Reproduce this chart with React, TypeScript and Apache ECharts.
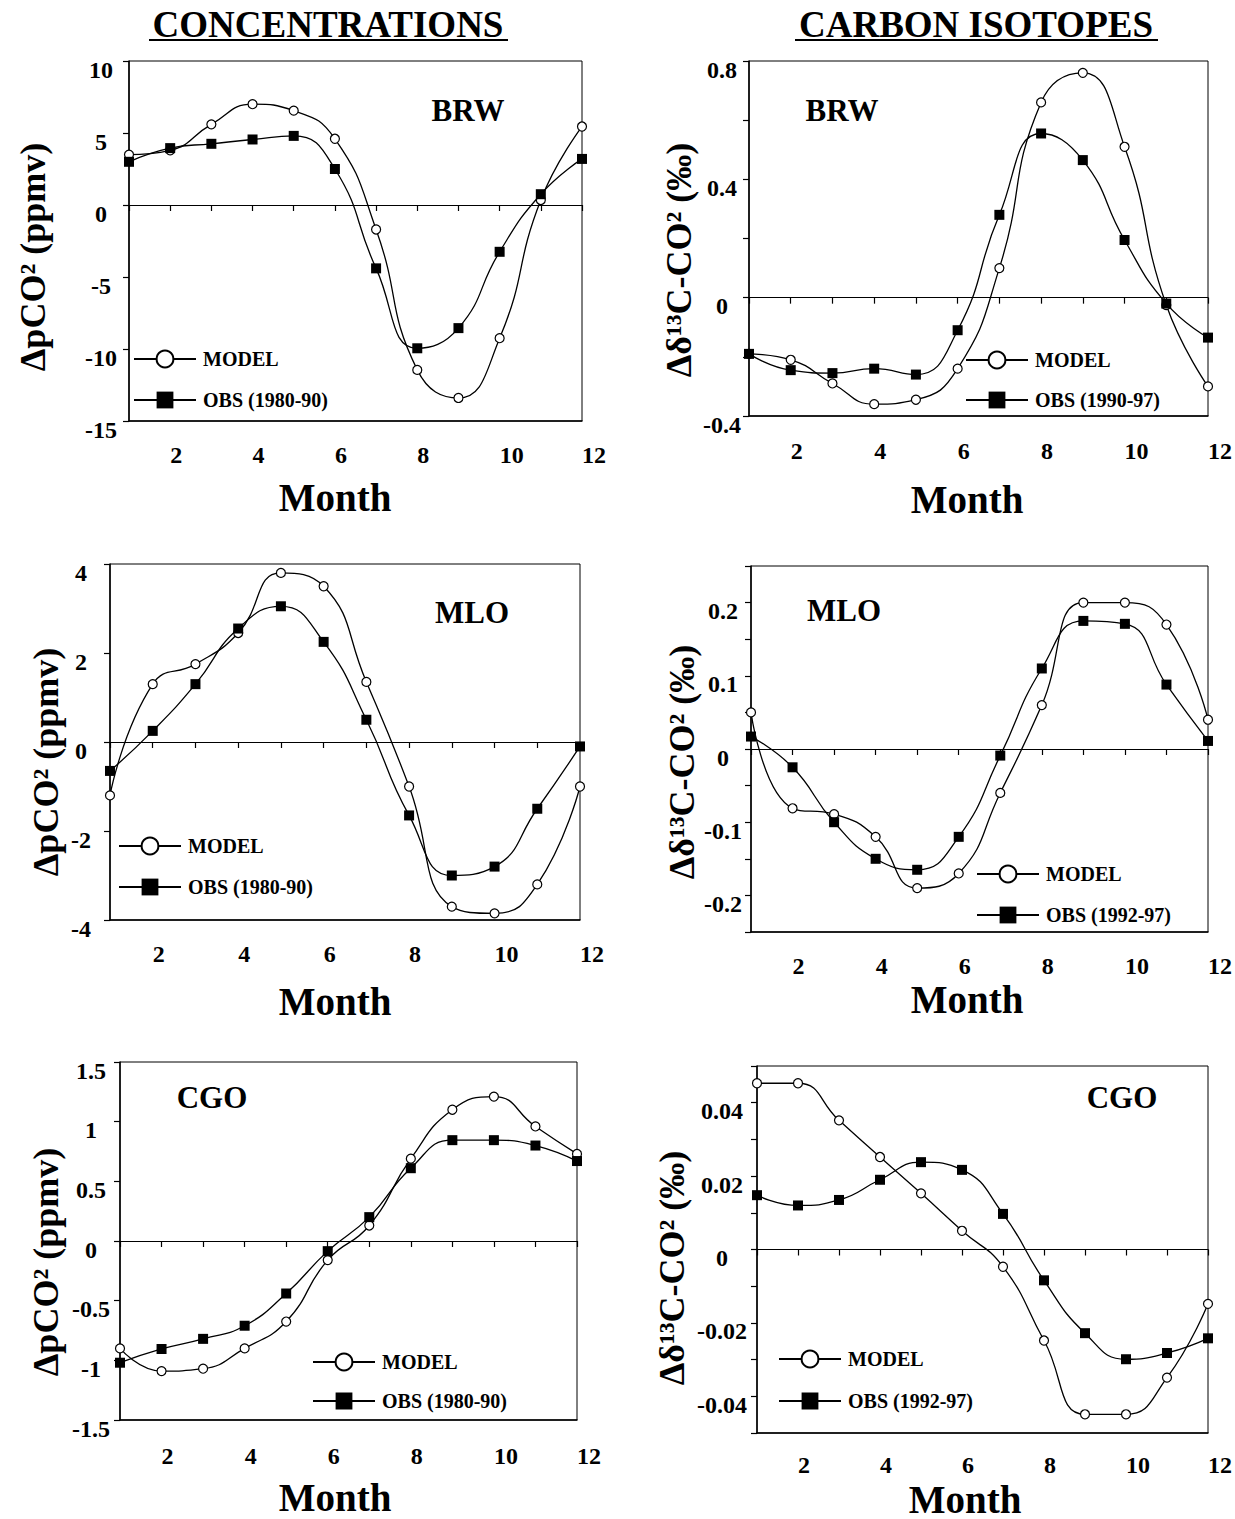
import React, { useEffect, useRef } from 'react';
import * as echarts from 'echarts';

const FONT = '"Liberation Serif", "Times New Roman", serif';

// ---- data ----
const months = [1, 2, 3, 4, 5, 6, 7, 8, 9, 10, 11, 12];
const xTickLabels = [2, 4, 6, 8, 10, 12];

const brwConcModel = [3.5, 3.8, 5.6, 7.0, 6.55, 4.6, -1.7, -11.45, -13.4, -9.25, 0.35, 5.45];
const brwConcObs = [3.0, 3.95, 4.25, 4.55, 4.8, 2.5, -4.4, -9.95, -8.55, -3.25, 0.75, 3.2];
const brwConcYLabels = [-15, -10, -5, 0, 5, 10];

const brwIsoModel = [-0.19, -0.21, -0.29, -0.36, -0.345, -0.24, 0.1, 0.66, 0.76, 0.51, -0.025, -0.3];
const brwIsoObs = [-0.19, -0.245, -0.255, -0.24, -0.26, -0.11, 0.28, 0.555, 0.465, 0.195, -0.02, -0.135];
const brwIsoYLabels = [-0.4, 0, 0.4, 0.8];

const mloConcModel = [-1.2, 1.3, 1.75, 2.45, 3.8, 3.5, 1.35, -1.0, -3.7, -3.85, -3.2, -1.0];
const mloConcObs = [-0.65, 0.25, 1.3, 2.55, 3.05, 2.25, 0.5, -1.65, -3.0, -2.8, -1.5, -0.1];
const mloConcYLabels = [-4, -2, 0, 2, 4];

const mloIsoModel = [0.05, -0.081, -0.089, -0.12, -0.19, -0.17, -0.06, 0.06, 0.2, 0.2, 0.17, 0.04];
const mloIsoObs = [0.017, -0.025, -0.1, -0.15, -0.165, -0.12, -0.009, 0.11, 0.175, 0.171, 0.088, 0.011];
const mloIsoYLabels = [-0.2, -0.1, 0, 0.1, 0.2];

const cgoConcModel = [-0.9, -1.09, -1.07, -0.9, -0.675, -0.16, 0.13, 0.69, 1.1, 1.21, 0.96, 0.73];
const cgoConcObs = [-1.02, -0.905, -0.82, -0.71, -0.44, -0.085, 0.2, 0.61, 0.845, 0.845, 0.8, 0.67];
const cgoConcYLabels = [-1.5, -1, -0.5, 0, 0.5, 1, 1.5];

const cgoIsoModel = [0.0453, 0.0453, 0.0352, 0.0252, 0.0153, 0.0051, -0.0047, -0.0248, -0.0449, -0.0449, -0.0349, -0.0148];
const cgoIsoObs = [0.0148, 0.012, 0.0135, 0.019, 0.0238, 0.0217, 0.0097, -0.0084, -0.0228, -0.0299, -0.0282, -0.0242];
const cgoIsoYLabels = [-0.04, -0.02, 0, 0.02, 0.04];

const concTitle = 'ΔpCO² (ppmv)';
const isoTitle = 'Δδ¹³C-CO² (‰)';

// ---- layout ----
const panels = [
  {
    grid: { left: 129, top: 61, width: 453, height: 360 },
    y: { min: -15, max: 10, interval: 5 }, yLabels: brwConcYLabels, labelMargin: 28, xMargin: 22,
    model: brwConcModel, obs: brwConcObs, obsName: 'OBS (1980-90)',
    station: 'BRW', stationPos: [468, 110], yTitle: concTitle, yTitlePos: [33, 257],
    monthPos: [335, 497], legend: { left: 133, top: 349, gap: 21 },
  },
  {
    grid: { left: 749, top: 61, width: 463, height: 355 },
    y: { min: -0.4, max: 0.8, interval: 0.2 }, yLabels: brwIsoYLabels, labelMargin: 27, xMargin: 23,
    model: brwIsoModel, obs: brwIsoObs, obsName: 'OBS (1990-97)',
    station: 'BRW', stationPos: [842, 110], yTitle: isoTitle, yTitlePos: [679, 260],
    monthPos: [967, 499], legend: { left: 965, top: 350, gap: 20 },
  },
  {
    grid: { left: 110, top: 564, width: 470, height: 356 },
    y: { min: -4, max: 4, interval: 2 }, yLabels: mloConcYLabels, labelMargin: 29, xMargin: 22,
    model: mloConcModel, obs: mloConcObs, obsName: 'OBS (1980-90)',
    station: 'MLO', stationPos: [472, 612], yTitle: concTitle, yTitlePos: [46, 762],
    monthPos: [335, 1001], legend: { left: 118, top: 836, gap: 21 },
  },
  {
    grid: { left: 751, top: 566, width: 464, height: 366 },
    y: { min: -0.25, max: 0.25, interval: 0.05 }, yLabels: mloIsoYLabels, labelMargin: 28, xMargin: 22,
    model: mloIsoModel, obs: mloIsoObs, obsName: 'OBS (1992-97)',
    station: 'MLO', stationPos: [844, 610], yTitle: isoTitle, yTitlePos: [682, 762],
    monthPos: [967, 999], legend: { left: 976, top: 864, gap: 21 },
  },
  {
    grid: { left: 120, top: 1062, width: 457, height: 358 },
    y: { min: -1.5, max: 1.5, interval: 0.5 }, yLabels: cgoConcYLabels, labelMargin: 29, xMargin: 24,
    model: cgoConcModel, obs: cgoConcObs, obsName: 'OBS (1980-90)',
    station: 'CGO', stationPos: [212, 1097], yTitle: concTitle, yTitlePos: [46, 1262],
    monthPos: [335, 1497], legend: { left: 312, top: 1352, gap: 19 },
  },
  {
    grid: { left: 757, top: 1066, width: 455, height: 367 },
    y: { min: -0.05, max: 0.05, interval: 0.01 }, yLabels: cgoIsoYLabels, labelMargin: 35, xMargin: 20,
    model: cgoIsoModel, obs: cgoIsoObs, obsName: 'OBS (1992-97)',
    station: 'CGO', stationPos: [1122, 1097], yTitle: isoTitle, yTitlePos: [672, 1268],
    monthPos: [965, 1499], legend: { left: 778, top: 1349, gap: 22 },
  },
];

const fmt = (v: number) => String(Math.round(v * 1e6) / 1e6);
const inList = (list: number[], v: number) => list.some((l) => Math.abs(l - v) < 1e-9);

const labelFont = { fontFamily: FONT, fontWeight: 'bold' as const, color: '#000' };

function buildOption() {
  const grid = panels.map((p) => ({ ...p.grid, show: true, borderColor: '#000', borderWidth: 1, backgroundColor: 'transparent' }));
  const xAxis: any[] = [];
  panels.forEach((p, i) => {
    xAxis.push({
      gridIndex: i, type: 'value', min: 1, max: 12, interval: 1, position: 'bottom',
      axisLine: { show: true, onZero: true, lineStyle: { color: '#000', width: 1.2 } },
      axisTick: { show: true, inside: false, length: 6, lineStyle: { color: '#000', width: 1.2 } },
      axisLabel: { show: false }, splitLine: { show: false },
    });
    xAxis.push({
      gridIndex: i, type: 'value', min: 1, max: 12, interval: 1, position: 'bottom',
      axisLine: { show: true, onZero: false, lineStyle: { color: '#000', width: 1.5 } },
      axisTick: { show: false }, splitLine: { show: false },
      axisLabel: {
        show: true, margin: p.xMargin, align: 'left', fontSize: 24, ...labelFont, showMinLabel: true, showMaxLabel: true,
        formatter: (v: number) => (inList(xTickLabels, v) ? fmt(v) : ''),
      },
    });
  });
  const yAxis = panels.map((p, i) => ({
    gridIndex: i, type: 'value', min: p.y.min, max: p.y.max, interval: p.y.interval,
    axisLine: { show: true, onZero: false, lineStyle: { color: '#000', width: 1.5 } },
    axisTick: { show: true, inside: false, length: 6, lineStyle: { color: '#000', width: 1.2 } },
    splitLine: { show: false },
    axisLabel: {
      show: true, margin: p.labelMargin, align: 'center', verticalAlign: 'top', lineHeight: 17,
      fontSize: 24, ...labelFont, showMinLabel: true, showMaxLabel: true,
      formatter: (v: number) => (inList(p.yLabels, v) ? fmt(v) : ''),
    },
  }));
  const series: any[] = [];
  panels.forEach((p, i) => {
    series.push({
      type: 'line', name: 'MODEL', xAxisIndex: 2 * i, yAxisIndex: i,
      data: months.map((m, j) => [m, p.model[j]]), smooth: 0.5,
      symbol: 'circle', symbolSize: 9, showSymbol: true,
      lineStyle: { color: '#000', width: 1.3 },
      itemStyle: { color: '#fff', borderColor: '#000', borderWidth: 1.2 }, z: 3,
    });
    series.push({
      type: 'line', name: p.obsName, xAxisIndex: 2 * i, yAxisIndex: i,
      data: months.map((m, j) => [m, p.obs[j]]), smooth: 0.5,
      symbol: 'rect', symbolSize: 10, showSymbol: true,
      lineStyle: { color: '#000', width: 1.3 },
      itemStyle: { color: '#000' }, z: 4,
    });
  });
  const legend = panels.map((p) => ({
    show: true, orient: 'vertical', left: p.legend.left, top: p.legend.top, itemGap: p.legend.gap,
    itemWidth: 62, itemHeight: 21, padding: 0, selectedMode: false,
    data: ['MODEL', p.obsName],
    textStyle: { fontSize: 20, ...labelFont, padding: [0, 0, 0, 2] },
  }));

  const graphic: any[] = [];
  const titleStyle = { fontSize: 37, fontWeight: 'bold', fontFamily: FONT, fill: '#000', textAlign: 'center', textVerticalAlign: 'middle' };
  graphic.push({ type: 'text', x: 328, y: 24, style: { ...titleStyle, text: 'CONCENTRATIONS' } });
  graphic.push({ type: 'line', shape: { x1: 149, y1: 40, x2: 508, y2: 40 }, style: { stroke: '#000', lineWidth: 2 } });
  graphic.push({ type: 'text', x: 976, y: 24, style: { ...titleStyle, text: 'CARBON ISOTOPES' } });
  graphic.push({ type: 'line', shape: { x1: 795, y1: 40, x2: 1158, y2: 40 }, style: { stroke: '#000', lineWidth: 2 } });
  panels.forEach((p) => {
    graphic.push({ type: 'text', x: p.stationPos[0], y: p.stationPos[1], z: 10,
      style: { text: p.station, fontSize: 31, fontWeight: 'bold', fontFamily: FONT, fill: '#000', textAlign: 'center', textVerticalAlign: 'middle' } });
    graphic.push({ type: 'text', x: p.monthPos[0], y: p.monthPos[1],
      style: { text: 'Month', fontSize: 39, fontWeight: 'bold', fontFamily: FONT, fill: '#000', textAlign: 'center', textVerticalAlign: 'middle' } });
    graphic.push({ type: 'text', x: p.yTitlePos[0], y: p.yTitlePos[1], rotation: Math.PI / 2,
      style: { text: p.yTitle, fontSize: 36, fontWeight: 'bold', fontFamily: FONT, fill: '#000', textAlign: 'center', textVerticalAlign: 'middle' } });
  });

  return { animation: false, backgroundColor: '#fff', grid, xAxis, yAxis, series, legend, graphic };
}

export default function App() {
  const ref = useRef<HTMLDivElement>(null);
  useEffect(() => {
    document.body.style.margin = '0';
    document.body.style.overflow = 'hidden';
    if (!ref.current) return;
    const chart = echarts.init(ref.current, null, { renderer: 'svg' });
    chart.setOption(buildOption() as any);
    return () => chart.dispose();
  }, []);
  return <div ref={ref} style={{ position: 'absolute', left: 0, top: 0, width: 1235, height: 1519, background: '#fff' }} />;
}
